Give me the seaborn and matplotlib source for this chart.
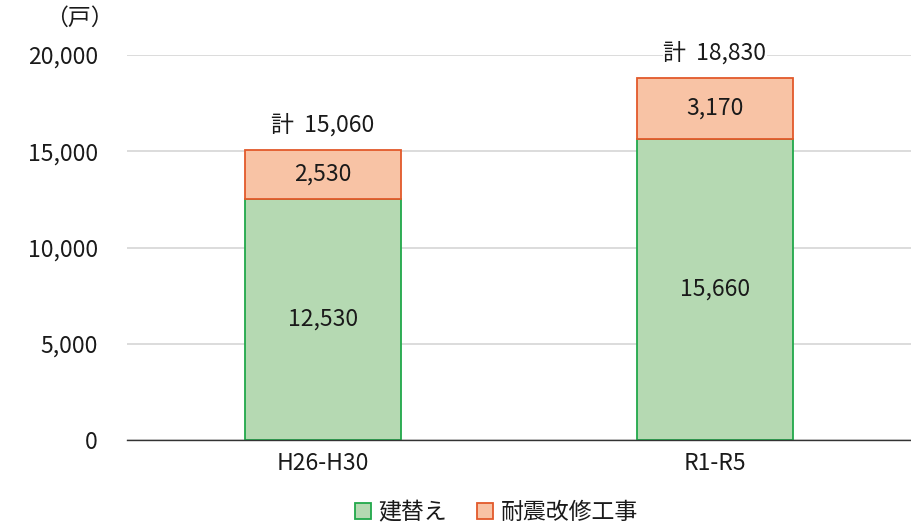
import matplotlib
matplotlib.use("Agg")
import matplotlib.pyplot as plt
from matplotlib.patches import Patch
import seaborn as sns
import pandas as pd

periods = ["H26-H30", "R1-R5"]
rebuild = [12530, 15660]
retrofit = [2530, 3170]
totals = [15060, 18830]
series_names = ["建替え", "耐震改修工事"]

green_fill, green_edge = "#B5D9B2", "#21A84A"
orange_fill, orange_edge = "#F8C3A5", "#E2592B"

sns.set_theme(style="white")
plt.rcParams["font.family"] = ["Noto Sans CJK JP", "DejaVu Sans"]

fig = plt.figure(figsize=(9.11, 5.26), dpi=100)
ax = fig.add_axes([0.1394, 0.1635, 0.8606, 0.7319])

df = pd.DataFrame({"period": periods, "rebuild": rebuild, "retrofit": retrofit})

sns.barplot(data=df, x="period", y="rebuild", color=green_fill, saturation=1,
            edgecolor=green_edge, linewidth=1.3, width=0.4, ax=ax, zorder=3)
ax.bar(range(len(periods)), df["retrofit"], bottom=df["rebuild"], width=0.4,
       color=orange_fill, edgecolor=orange_edge, linewidth=1.3, zorder=3)

fs = 16.5
txt = "#1a1a1a"
for i in range(len(periods)):
    ax.text(i, rebuild[i] / 2, f"{rebuild[i]:,}", ha="center", va="center",
            fontsize=fs, color=txt, zorder=4)
    ax.text(i, rebuild[i] + retrofit[i] / 2, f"{retrofit[i]:,}", ha="center",
            va="center", fontsize=fs, color=txt, zorder=4)
    ax.text(i, totals[i] + 1300, f"計  {totals[i]:,}", ha="center", va="center",
            fontsize=fs, color=txt, zorder=4,
            bbox=dict(facecolor="white", edgecolor="none", pad=0.5))

ax.set_xlim(-0.5, 1.5)
ax.set_ylim(0, 20000)
ax.set_yticks(range(0, 20001, 5000))
ax.set_yticklabels([f"{v:,}" for v in range(0, 20001, 5000)], fontsize=fs, color=txt)
ax.set_xticklabels(periods, fontsize=fs, color=txt)
ax.set_xlabel("")
ax.set_ylabel("")
ax.tick_params(axis="x", length=0, pad=9)
ax.tick_params(axis="y", length=0, pad=21)
ax.grid(axis="y", color="#D9D9D9", linewidth=1.3, zorder=0)
ax.set_axisbelow(True)
for s in ["left", "right", "top"]:
    ax.spines[s].set_visible(False)
ax.spines["bottom"].set_color("#333333")
ax.spines["bottom"].set_linewidth(1.0)
ax.spines["bottom"].set_zorder(5)

fig.text(0.087, 0.965, "（戸）", ha="center", va="center", fontsize=fs, color=txt)

handles = [Patch(facecolor=green_fill, edgecolor=green_edge, linewidth=1.3),
           Patch(facecolor=orange_fill, edgecolor=orange_edge, linewidth=1.3)]
fig.legend(handles, series_names, loc="center", bbox_to_anchor=(0.545, 0.025),
           ncol=2, frameon=False, fontsize=fs, handlelength=0.7, handleheight=0.7,
           handletextpad=0.35, columnspacing=1.3, labelcolor=txt)

fig.savefig("out.png", dpi=100)
